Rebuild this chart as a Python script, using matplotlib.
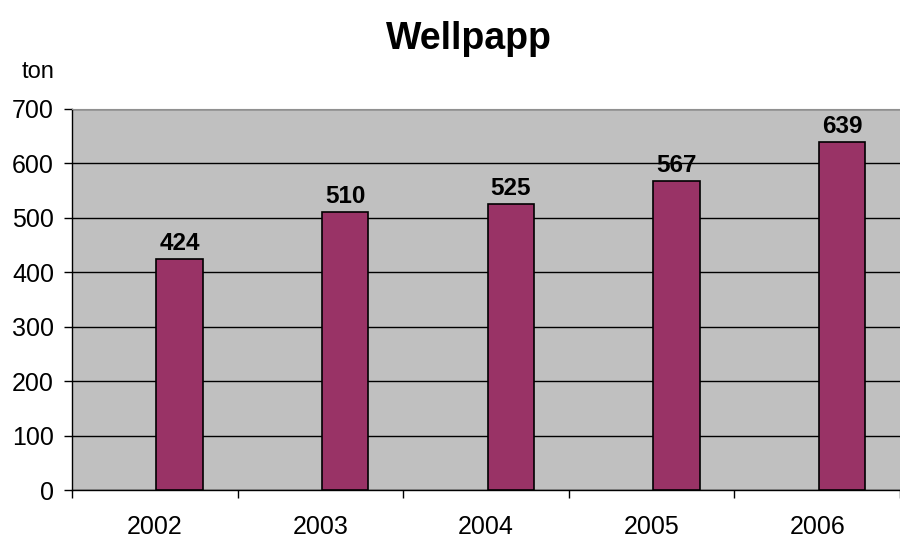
import numpy as np
import matplotlib
matplotlib.use('Agg')
import matplotlib.pyplot as plt

years = ['2002', '2003', '2004', '2005', '2006']
values = [424, 510, 525, 567, 639]
yticks = [0, 100, 200, 300, 400, 500, 600, 700]

plt.rcParams['font.family'] = ['Liberation Sans', 'DejaVu Sans']

fig = plt.figure(figsize=(9, 5.39), dpi=100)
ax = fig.add_axes([0.08, 0.0909, 0.92, 0.7069])
ax.set_facecolor('#C0C0C0')

x = np.arange(len(years))
ax.bar(x + 0.15, values, width=0.28, color='#993366',
       edgecolor='black', linewidth=1.2, zorder=3)

# value labels above the bars
for xi, v in zip(x, values):
    ax.annotate(str(v), (xi + 0.15, v), xytext=(0, 3),
                textcoords='offset points', ha='center', va='bottom',
                fontsize=17.5, fontweight='bold', zorder=4)

ax.set_xlim(-0.5, len(years) - 0.5)
ax.set_ylim(0, 700)
ax.set_yticks(yticks)
ax.tick_params(axis='y', labelsize=18, length=6, width=1, pad=7)

ax.set_xticks(x)
ax.set_xticklabels(years)
ax.set_xticks(np.arange(len(years) + 1) - 0.5, minor=True)
ax.tick_params(axis='x', which='major', length=0, labelsize=18, pad=18)
ax.tick_params(axis='x', which='minor', length=6, width=1)

ax.set_axisbelow(True)
ax.yaxis.grid(True, color='black', linewidth=1)
ax.spines['top'].set_color('#909090')
ax.spines['right'].set_visible(False)
ax.spines['left'].set_linewidth(1)
ax.spines['bottom'].set_linewidth(1)

fig.text(469 / 900, 1 - 39 / 539, 'Wellpapp', ha='center', va='center',
         fontsize=27, fontweight='bold')
fig.text(38 / 900, 1 - 72 / 539, 'ton', ha='center', va='center',
         fontsize=17)

plt.savefig('out.png', dpi=100)
